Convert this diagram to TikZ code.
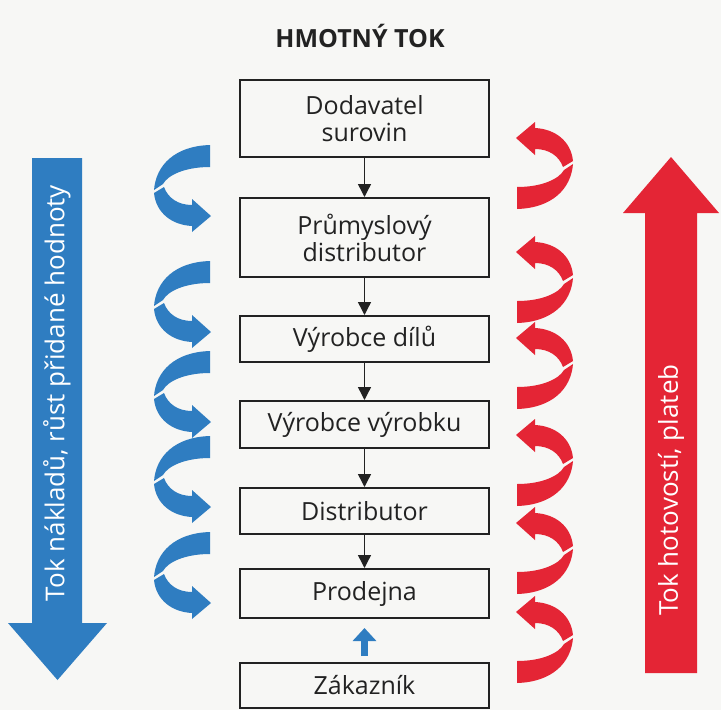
\documentclass[tikz,border=0pt]{standalone}
\usepackage{fontspec}
\setmainfont{Open Sans}
\usetikzlibrary{arrows.meta}
\definecolor{paper}{HTML}{F7F7F5}
\definecolor{flowblue}{HTML}{2F7DC1}
\definecolor{flowred}{HTML}{E42535}
\definecolor{ink}{HTML}{222222}

\begin{document}
\begin{tikzpicture}[x=1pt,y=-1pt,
  stage/.style={draw=ink, line width=2pt, fill=paper, minimum width=249pt,
    inner sep=0pt, align=center, text=ink,
    font=\fontsize{25}{27}\selectfont},
  flow/.style={draw=ink, line width=1.4pt,
    -{Triangle[length=13pt,width=13pt]}},
  sidetext/.style={rotate=90, text=white, inner sep=0pt,
    font=\fontsize{26}{28}\selectfont},
  % twisted ribbon arrow: plain end top right, head bottom right
  curl/.pic={
    \fill[pic actions] (0,0) .. controls (-35,1) and (-54,20) .. (-56,45)
      -- (-47,39) .. controls (-42,30) and (-25,22) .. (0,22) -- cycle;
    \fill[pic actions] (-56,48) .. controls (-54,68) and (-38,80) .. (-18,81)
      -- (-18,87) -- (1,71) -- (-18,54) -- (-18,60)
      .. controls (-32,60) and (-42,53) .. (-46,42) -- cycle;
  }
]
% page
\fill[paper] (0,0) rectangle (721,710);
\path[use as bounding box] (0,0) rectangle (721,710);

% title
\node[text=ink, font=\fontsize{25}{28}\selectfont\bfseries] (title) at (360,36) {HMOTNÝ TOK};

% supply chain stages
\node[stage, minimum height=77pt] (s1) at (364.5,118.5) {Dodavatel\\surovin};
\node[stage, minimum height=79pt] (s2) at (364.5,237.5) {Průmyslový\\distributor};
\node[stage, minimum height=46pt] (s3) at (364.5,339) {Výrobce dílů};
\node[stage, minimum height=47pt] (s4) at (364.5,424.5) {Výrobce výrobku};
\node[stage, minimum height=46pt] (s5) at (364.5,511) {Distributor};
\node[stage, minimum height=49pt] (s6) at (364.5,593.5) {Prodejna};
\node[stage, minimum height=45pt] (s7) at (364.5,685.5) {Zákazník};

% material flow
\draw[flow] (s1) -- (s2);
\draw[flow] (s2) -- (s3);
\draw[flow] (s3) -- (s4);
\draw[flow] (s4) -- (s5);
\draw[flow] (s5) -- (s6);
\draw[flowblue, line width=7pt, shorten <=6pt, shorten >=9pt,
  -{Triangle[length=13pt,width=23pt]}] (s7) -- (s6);

% cost flow (left)
\fill[flowblue] (32,158) -- (82,158) -- (82,623) -- (107,623) -- (57.5,680)
  -- (8,623) -- (32,623) -- cycle;
\node[sidetext] (costs) at (57,393) {Tok nákladů, růst přidané hodnoty};

% cash flow (right)
\fill[flowred] (645,673) -- (645,213) -- (623,213) -- (671,157) -- (719,213)
  -- (697,213) -- (697,673) -- cycle;
\node[sidetext] (cash) at (671,490) {Tok hotovostí, plateb};

% ribbon arrows
\foreach \y in {145,261,351,436,532}
  \pic[fill=flowblue] at (210,\y) {curl};
\foreach \y in {209,323,409,506,594,683}
  \pic[fill=flowred, rotate=180] at (517,\y) {curl};
\end{tikzpicture}
\end{document}
